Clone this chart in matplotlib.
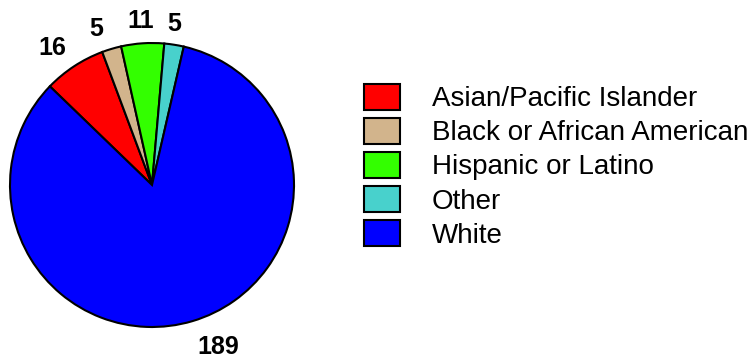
import matplotlib
matplotlib.use("Agg")
import matplotlib.pyplot as plt
from matplotlib.patches import Patch

categories = ["Asian/Pacific Islander", "Black or African American",
              "Hispanic or Latino", "Other", "White"]
counts = [16, 5, 11, 5, 189]
colors = ["#FF0000", "#D2B48C", "#33FF00", "#48D1CC", "#0000FF"]

plt.rcParams['font.family'] = ['Liberation Sans', 'DejaVu Sans']

W, H = 754, 358
fig = plt.figure(figsize=(W / 100, H / 100), dpi=100)
cx, cy, r = 152, 185, 142
ax = fig.add_axes([(cx - r) / W, (H - cy - r) / H, 2 * r / W, 2 * r / H])

wedges, texts = ax.pie(counts, colors=colors, labels=[str(c) for c in counts],
                       startangle=136, counterclock=False, radius=1.0,
                       labeldistance=1.16,
                       wedgeprops=dict(edgecolor="black", linewidth=1.5),
                       textprops=dict(fontsize=18, fontweight="bold", color="black"))
# small label nudges (in pixels) to match the reference placement
nudges = [(-9, -1), (-9, -2), (0, 0), (-3, -2), (19, -4)]
for t, (dx, dy) in zip(texts, nudges):
    t.set_horizontalalignment("center")
    t.set_verticalalignment("center")
    x, y = t.get_position()
    t.set_position((x + dx / r, y + dy / r))

ax.set_xlim(-1, 1)
ax.set_ylim(-1, 1)
ax.set_aspect("equal")
ax.axis("off")

handles = [Patch(facecolor=c, edgecolor="black", linewidth=1.5) for c in colors]
fig.legend(handles, categories, loc="upper left",
           bbox_to_anchor=(364 / W, 1 - 84 / H), frameon=False,
           fontsize=20, handlelength=1.3, handleheight=1.04,
           handletextpad=1.15, labelspacing=0.21, borderpad=0, borderaxespad=0)

fig.savefig("out.png", dpi=100)
